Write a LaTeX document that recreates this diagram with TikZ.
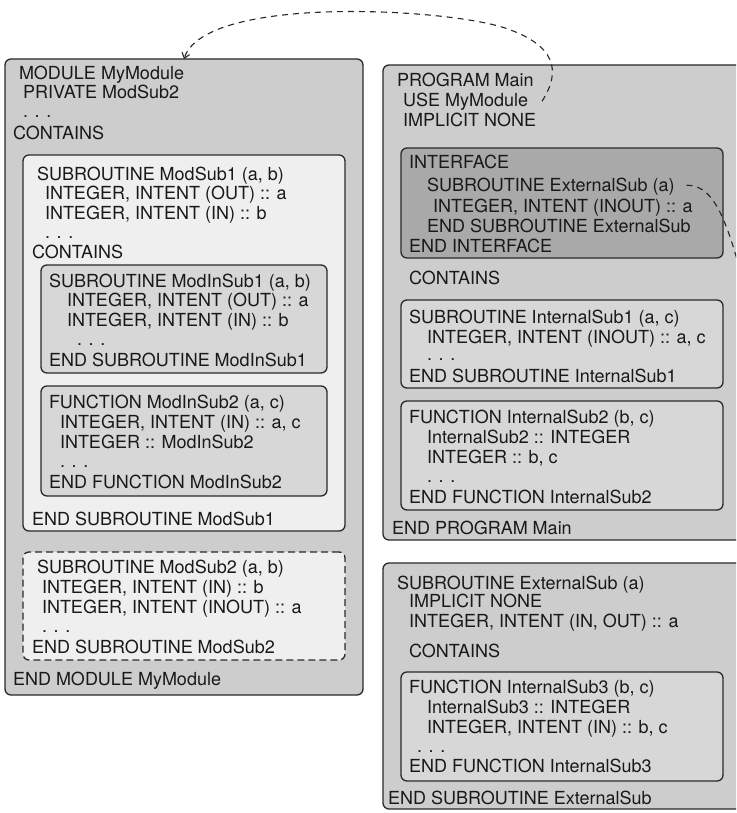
\documentclass[tikz,border=0pt]{standalone}
\usepackage{fontspec}
\setmainfont{TeX Gyre Heros}
\usetikzlibrary{arrows.meta}
\definecolor{outergray}{HTML}{CDCDCD}
\definecolor{innergray}{HTML}{D7D7D7}
\definecolor{lightfill}{HTML}{EFEFEF}
\definecolor{darkfill}{HTML}{A9A9A9}
\definecolor{edgecol}{HTML}{2A2A2A}
\newcommand\codeline[4]{\node[code] (#1) at (#2,#3) {#4};}
\tikzset{
  code/.style={anchor=base west, inner sep=0pt, outer sep=0pt, font=\fontsize{18}{19}\selectfont, text=black!90},
  frame/.style={rectangle, draw=edgecol, line width=1.3pt, rounded corners=6pt, inner sep=0pt, outer sep=0pt},
  conn/.style={draw=black!85, line width=1.1pt, dash pattern=on 6pt off 5pt}
}
\begin{document}
\begin{tikzpicture}[x=1pt,y=-1pt]
\useasboundingbox (0,0) rectangle (736,813);
\begin{scope}
\clip (0,0) rectangle (736,813);
% ---------- MODULE ----------
\node[frame, fill=outergray, minimum width=358pt, minimum height=636pt] (module) at (184,377) {};
\node[frame, fill=lightfill, minimum width=322pt, minimum height=376pt] (modsub1) at (184,343) {};
\node[frame, fill=innergray, minimum width=286pt, minimum height=108pt] (modinsub1) at (184,319) {};
\node[frame, fill=innergray, minimum width=286pt, minimum height=110pt] (modinsub2) at (184,441) {};
\node[frame, fill=lightfill, dash pattern=on 7pt off 4pt, minimum width=322pt, minimum height=108pt] (modsub2) at (184,606) {};
% ---------- PROGRAM ----------
\node[frame, fill=outergray, minimum width=417pt, minimum height=475pt] (program) at (591.5,302.5) {};
\node[frame, fill=darkfill, minimum width=322pt, minimum height=110pt] (interface) at (562,203) {};
\node[frame, fill=innergray, minimum width=322pt, minimum height=88pt] (isub1) at (562,344) {};
\node[frame, fill=innergray, minimum width=322pt, minimum height=109pt] (isub2) at (562,455.5) {};
% ---------- EXTERNAL ----------
\node[frame, fill=outergray, minimum width=417pt, minimum height=246pt] (extsub) at (591.5,686) {};
\node[frame, fill=innergray, minimum width=322pt, minimum height=109pt] (isub3) at (562,726.5) {};

% module text
\codeline{m1}{19}{80}{MODULE MyModule}
\codeline{m2}{23}{99}{PRIVATE ModSub2}
\codeline{m3}{23}{118}{. . .}
\codeline{m4}{13}{140}{CONTAINS}
\codeline{s1}{37}{180}{SUBROUTINE ModSub1 (a, b)}
\codeline{s2}{45}{200}{INTEGER, INTENT (OUT) :: a}
\codeline{s3}{45}{219}{INTEGER, INTENT (IN) :: b}
\codeline{s4}{45}{238}{. . .}
\codeline{s5}{32}{258}{CONTAINS}
\codeline{a1}{49}{287}{SUBROUTINE ModInSub1 (a, b)}
\codeline{a2}{67}{306}{INTEGER, INTENT (OUT) :: a}
\codeline{a3}{67}{326}{INTEGER, INTENT (IN) :: b}
\codeline{a4}{77}{345}{. . .}
\codeline{a5}{49}{366}{END SUBROUTINE ModInSub1}
\codeline{b1}{49}{408}{FUNCTION ModInSub2 (a, c)}
\codeline{b2}{60}{428}{INTEGER, INTENT (IN) :: a, c}
\codeline{b3}{60}{448}{INTEGER :: ModInSub2}
\codeline{b4}{60}{467}{. . .}
\codeline{b5}{49}{488}{END FUNCTION ModInSub2}
\codeline{s6}{32}{525}{END SUBROUTINE ModSub1}
\codeline{c1}{37}{573}{SUBROUTINE ModSub2 (a, b)}
\codeline{c2}{42}{593}{INTEGER, INTENT (IN) :: b}
\codeline{c3}{42}{613}{INTEGER, INTENT (INOUT) :: a}
\codeline{c4}{42}{632}{. . .}
\codeline{c5}{32}{653}{END SUBROUTINE ModSub2}
\codeline{m5}{13}{685}{END MODULE MyModule}

% program text
\codeline{p1}{397}{87}{PROGRAM Main}
\codeline{p2}{403}{107}{USE MyModule}
\codeline{p3}{403}{127}{IMPLICIT NONE}
\codeline{i1}{409}{169}{INTERFACE}
\codeline{i2}{427}{192}{SUBROUTINE ExternalSub (a)}
\codeline{i3}{433}{212}{INTEGER, INTENT (INOUT) :: a}
\codeline{i4}{427}{232}{END SUBROUTINE ExternalSub}
\codeline{i5}{409}{252}{END INTERFACE}
\codeline{p4}{409}{284}{CONTAINS}
\codeline{d1}{409}{323}{SUBROUTINE InternalSub1 (a, c)}
\codeline{d2}{427}{343}{INTEGER, INTENT (INOUT) :: a, c}
\codeline{d3}{427}{360}{. . .}
\codeline{d4}{409}{382}{END SUBROUTINE InternalSub1}
\codeline{e1}{409}{423}{FUNCTION InternalSub2 (b, c)}
\codeline{e2}{427}{443}{InternalSub2 :: INTEGER}
\codeline{e3}{427}{463}{INTEGER :: b, c}
\codeline{e4}{427}{482}{. . .}
\codeline{e5}{409}{503}{END FUNCTION InternalSub2}
\codeline{p5}{392}{534}{END PROGRAM Main}

% external subroutine text
\codeline{x1}{397}{589}{SUBROUTINE ExternalSub (a)}
\codeline{x2}{409}{607}{IMPLICIT NONE}
\codeline{x3}{409}{627}{INTEGER, INTENT (IN, OUT) :: a}
\codeline{x4}{409}{657}{CONTAINS}
\codeline{f1}{409}{693}{FUNCTION InternalSub3 (b, c)}
\codeline{f2}{427}{713}{InternalSub3 :: INTEGER}
\codeline{f3}{427}{733}{INTEGER, INTENT (IN) :: b, c}
\codeline{f4}{417}{752}{. . .}
\codeline{f5}{409}{772}{END FUNCTION InternalSub3}
\codeline{x5}{388}{804}{END SUBROUTINE ExternalSub}

% ---------- connectors ----------
\coordinate (usestart) at ([xshift=14pt,yshift=1pt]p2.east);
\coordinate (bend1) at (505,28);
\draw[conn, -{Straight Barb[length=5pt,width=8pt]}] (usestart)
  .. controls (562,70) and (555,45) .. (bend1)
  .. controls (445,8) and (205,-5) .. (module.north);
\coordinate (extstart) at ([xshift=12pt,yshift=2pt]i2.east);
\draw[conn, -{Straight Barb[length=5pt,width=8pt]}] (extstart)
  .. controls (725,186) and (740,240) .. (extsub.north east);
\end{scope}
\end{tikzpicture}
\end{document}
